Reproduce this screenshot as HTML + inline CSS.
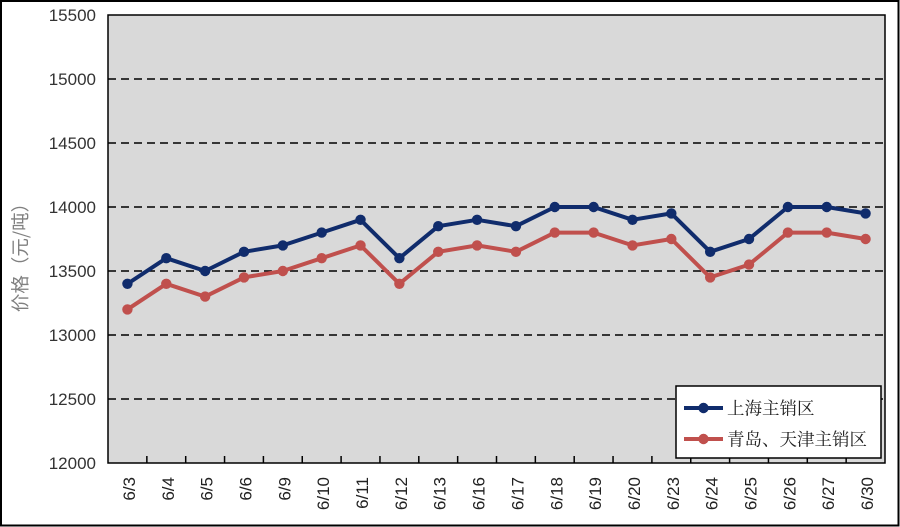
<!DOCTYPE html>
<html>
<head>
<meta charset="utf-8">
<style>
html,body{margin:0;padding:0;background:#fff;}
svg{display:block;}
</style>
</head>
<body>
<svg width="900" height="527" viewBox="0 0 900 527" xmlns="http://www.w3.org/2000/svg">
  <rect x="0" y="0" width="900" height="527" fill="#fff"/>
  <rect x="1" y="1" width="897.5" height="524.5" fill="none" stroke="#000" stroke-width="2"/>
  <!-- plot area -->
  <rect x="108" y="15" width="777" height="448" fill="#d9d9d9"/>
  <!-- gridlines -->
  <g stroke="#000" stroke-width="1.5" stroke-dasharray="8,5">
    <line x1="108" y1="79" x2="885" y2="79"/>
    <line x1="108" y1="143" x2="885" y2="143"/>
    <line x1="108" y1="207" x2="885" y2="207"/>
    <line x1="108" y1="271" x2="885" y2="271"/>
    <line x1="108" y1="335" x2="885" y2="335"/>
    <line x1="108" y1="399" x2="885" y2="399"/>
  </g>
  <rect x="108" y="15" width="777" height="448" fill="none" stroke="#000" stroke-width="1.5"/>
  <!-- x ticks -->
  <g stroke="#000" stroke-width="1.5">
    <line x1="146.85" y1="456" x2="146.85" y2="463"/>
    <line x1="185.7" y1="456" x2="185.7" y2="463"/>
    <line x1="224.55" y1="456" x2="224.55" y2="463"/>
    <line x1="263.4" y1="456" x2="263.4" y2="463"/>
    <line x1="302.25" y1="456" x2="302.25" y2="463"/>
    <line x1="341.1" y1="456" x2="341.1" y2="463"/>
    <line x1="379.95" y1="456" x2="379.95" y2="463"/>
    <line x1="418.8" y1="456" x2="418.8" y2="463"/>
    <line x1="457.65" y1="456" x2="457.65" y2="463"/>
    <line x1="496.5" y1="456" x2="496.5" y2="463"/>
    <line x1="535.35" y1="456" x2="535.35" y2="463"/>
    <line x1="574.2" y1="456" x2="574.2" y2="463"/>
    <line x1="613.05" y1="456" x2="613.05" y2="463"/>
    <line x1="651.9" y1="456" x2="651.9" y2="463"/>
    <line x1="690.75" y1="456" x2="690.75" y2="463"/>
    <line x1="729.6" y1="456" x2="729.6" y2="463"/>
    <line x1="768.45" y1="456" x2="768.45" y2="463"/>
    <line x1="807.3" y1="456" x2="807.3" y2="463"/>
    <line x1="846.15" y1="456" x2="846.15" y2="463"/>
  </g>
  <!-- y labels -->
  <g font-family="'Liberation Sans', sans-serif" font-size="17" fill="#333" text-anchor="end">
    <text x="96" y="21">15500</text>
    <text x="96" y="85">15000</text>
    <text x="96" y="149">14500</text>
    <text x="96" y="213">14000</text>
    <text x="96" y="277">13500</text>
    <text x="96" y="341">13000</text>
    <text x="96" y="405">12500</text>
    <text x="96" y="469">12000</text>
  </g>
  <!-- y title -->
  <text x="20" y="253" transform="rotate(-90 20 253)" font-family="'Noto Sans CJK SC', sans-serif" font-size="18.5" fill="#808080" text-anchor="middle" dominant-baseline="central">价格（元/吨）</text>
  <!-- x labels -->
  <g font-family="'Liberation Sans', sans-serif" font-size="17" fill="#222" text-anchor="end">
    <text x="135" y="477" transform="rotate(-90 135 477)">6/3</text>
    <text x="173.8" y="477" transform="rotate(-90 173.8 477)">6/4</text>
    <text x="212.6" y="477" transform="rotate(-90 212.6 477)">6/5</text>
    <text x="251.5" y="477" transform="rotate(-90 251.5 477)">6/6</text>
    <text x="290.3" y="477" transform="rotate(-90 290.3 477)">6/9</text>
    <text x="329.2" y="477" transform="rotate(-90 329.2 477)">6/10</text>
    <text x="368" y="477" transform="rotate(-90 368 477)">6/11</text>
    <text x="406.9" y="477" transform="rotate(-90 406.9 477)">6/12</text>
    <text x="445.7" y="477" transform="rotate(-90 445.7 477)">6/13</text>
    <text x="484.6" y="477" transform="rotate(-90 484.6 477)">6/16</text>
    <text x="523.4" y="477" transform="rotate(-90 523.4 477)">6/17</text>
    <text x="562.3" y="477" transform="rotate(-90 562.3 477)">6/18</text>
    <text x="601.1" y="477" transform="rotate(-90 601.1 477)">6/19</text>
    <text x="640" y="477" transform="rotate(-90 640 477)">6/20</text>
    <text x="678.8" y="477" transform="rotate(-90 678.8 477)">6/23</text>
    <text x="717.7" y="477" transform="rotate(-90 717.7 477)">6/24</text>
    <text x="756.5" y="477" transform="rotate(-90 756.5 477)">6/25</text>
    <text x="795.4" y="477" transform="rotate(-90 795.4 477)">6/26</text>
    <text x="834.2" y="477" transform="rotate(-90 834.2 477)">6/27</text>
    <text x="873.1" y="477" transform="rotate(-90 873.1 477)">6/30</text>
  </g>
  <!-- Qingdao series -->
  <polyline fill="none" stroke="#c0504d" stroke-width="4" stroke-linejoin="round" points="127.43,309.4 166.28,283.8 205.13,296.6 243.98,277.4 282.83,271 321.68,258.2 360.53,245.4 399.38,283.8 438.23,251.8 477.08,245.4 515.93,251.8 554.78,232.6 593.63,232.6 632.48,245.4 671.33,239 710.18,277.4 749.03,264.6 787.88,232.6 826.73,232.6 865.58,239"/>
  <g fill="#c0504d">
    <circle cx="127.43" cy="309.4" r="5.2"/><circle cx="166.28" cy="283.8" r="5.2"/><circle cx="205.13" cy="296.6" r="5.2"/><circle cx="243.98" cy="277.4" r="5.2"/><circle cx="282.83" cy="271" r="5.2"/><circle cx="321.68" cy="258.2" r="5.2"/><circle cx="360.53" cy="245.4" r="5.2"/><circle cx="399.38" cy="283.8" r="5.2"/><circle cx="438.23" cy="251.8" r="5.2"/><circle cx="477.08" cy="245.4" r="5.2"/><circle cx="515.93" cy="251.8" r="5.2"/><circle cx="554.78" cy="232.6" r="5.2"/><circle cx="593.63" cy="232.6" r="5.2"/><circle cx="632.48" cy="245.4" r="5.2"/><circle cx="671.33" cy="239" r="5.2"/><circle cx="710.18" cy="277.4" r="5.2"/><circle cx="749.03" cy="264.6" r="5.2"/><circle cx="787.88" cy="232.6" r="5.2"/><circle cx="826.73" cy="232.6" r="5.2"/><circle cx="865.58" cy="239" r="5.2"/>
  </g>
  <!-- Shanghai series -->
  <polyline fill="none" stroke="#102c6c" stroke-width="4" stroke-linejoin="round" points="127.43,283.8 166.28,258.2 205.13,271 243.98,251.8 282.83,245.4 321.68,232.6 360.53,219.8 399.38,258.2 438.23,226.2 477.08,219.8 515.93,226.2 554.78,207 593.63,207 632.48,219.8 671.33,213.4 710.18,251.8 749.03,239 787.88,207 826.73,207 865.58,213.4"/>
  <g fill="#102c6c">
    <circle cx="127.43" cy="283.8" r="5.2"/><circle cx="166.28" cy="258.2" r="5.2"/><circle cx="205.13" cy="271" r="5.2"/><circle cx="243.98" cy="251.8" r="5.2"/><circle cx="282.83" cy="245.4" r="5.2"/><circle cx="321.68" cy="232.6" r="5.2"/><circle cx="360.53" cy="219.8" r="5.2"/><circle cx="399.38" cy="258.2" r="5.2"/><circle cx="438.23" cy="226.2" r="5.2"/><circle cx="477.08" cy="219.8" r="5.2"/><circle cx="515.93" cy="226.2" r="5.2"/><circle cx="554.78" cy="207" r="5.2"/><circle cx="593.63" cy="207" r="5.2"/><circle cx="632.48" cy="219.8" r="5.2"/><circle cx="671.33" cy="213.4" r="5.2"/><circle cx="710.18" cy="251.8" r="5.2"/><circle cx="749.03" cy="239" r="5.2"/><circle cx="787.88" cy="207" r="5.2"/><circle cx="826.73" cy="207" r="5.2"/><circle cx="865.58" cy="213.4" r="5.2"/>
  </g>
  <!-- legend -->
  <rect x="676" y="386" width="205" height="72" fill="#fff" stroke="#000" stroke-width="1.5"/>
  <line x1="684" y1="408" x2="723" y2="408" stroke="#102c6c" stroke-width="4"/>
  <circle cx="703.5" cy="408" r="5.2" fill="#102c6c"/>
  <line x1="684" y1="439" x2="723" y2="439" stroke="#c0504d" stroke-width="4"/>
  <circle cx="703.5" cy="439" r="5.2" fill="#c0504d"/>
  <g font-family="'Noto Serif CJK SC', 'Liberation Serif', serif" font-size="17.5" fill="#222">
    <text x="727" y="408" dominant-baseline="central">上海主销区</text>
    <text x="727" y="439" dominant-baseline="central">青岛、天津主销区</text>
  </g>
</svg>
</body>
</html>
